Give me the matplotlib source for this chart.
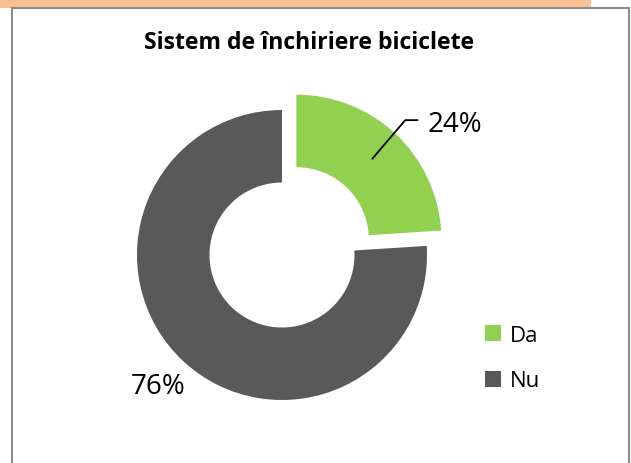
import numpy as np
import matplotlib
matplotlib.use("Agg")
import matplotlib.pyplot as plt
from matplotlib.patches import Rectangle

title = "Sistem de închiriere biciclete"
categories = ["Da", "Nu"]
values = [24, 76]
colors = ["#92D050", "#595959"]

W, H = 631, 464
fig = plt.figure(figsize=(W / 100, H / 100), dpi=100)
fig.patch.set_facecolor("white")

def px(x, y):
    return x / W, 1 - y / H

# orange strip and frame
fig.patches.append(Rectangle(px(0, 9), 591 / W, 9 / H, transform=fig.transFigure,
                             facecolor="#FAC090", edgecolor="none", zorder=0))
fig.patches.append(Rectangle(px(12, 470), 617 / W, 461 / H, transform=fig.transFigure,
                             facecolor="white", edgecolor="#8C8C8C", linewidth=1.5, zorder=1))

# pie axes: center (282,256), radius 145 px
cx, cy, R = 282, 256, 145
half = 200
x0, y0 = px(cx - half, cy + half)
ax = fig.add_axes([x0, y0, 2 * half / W, 2 * half / H])
ax.set_zorder(2)
ax.patch.set_alpha(0)
explode = [0.145, 0]
wedges, _ = ax.pie(values, colors=colors, startangle=90, counterclock=False,
                   radius=1, explode=explode,
                   wedgeprops=dict(width=0.5, edgecolor="none"))
lim = half / R
ax.set_xlim(-lim, lim)
ax.set_ylim(-lim, lim)
ax.set_aspect("equal")
ax.axis("off")

total = sum(values)
fracs = [v / total for v in values]
mids = []
acc = 0
for f in fracs:
    mids.append(np.deg2rad((acc + f / 2) * 360))
    acc += f

lbl_font = dict(family="Open Sans", fontsize=20, color="#000000")
# Da label with leader line
a = mids[0]
e = explode[0]
p0 = ((0.76 + e) * np.sin(a), (0.76 + e) * np.cos(a))
p1 = (0.85, 0.93)
p2 = (0.94, 0.93)
ax.plot([p0[0], p1[0], p2[0]], [p0[1], p1[1], p2[1]], color="black", lw=1.3,
        solid_capstyle="butt")
ax.text(1.005, 0.905, f"{values[0]}%", ha="left", va="center", **lbl_font)

# Nu label
a = mids[1]
ax.text(1.25 * np.sin(a), 1.24 * np.cos(a), f"{values[1]}%", ha="center",
        va="center", **lbl_font)

fig.text(309 / W, 1 - 43 / H, title, ha="center", va="center",
         family="Open Sans", fontweight="bold", fontsize=16.6, color="black", zorder=3)

leg = fig.legend(wedges, categories, loc="upper left",
                 bbox_to_anchor=px(485, 326), frameon=False,
                 prop=dict(family="Open Sans", size=16),
                 borderpad=0, borderaxespad=0,
                 handlelength=0.72, handleheight=0.72, handletextpad=0.4,
                 labelspacing=1.1)
leg.set_zorder(3)

fig.savefig("out.png", dpi=100)
